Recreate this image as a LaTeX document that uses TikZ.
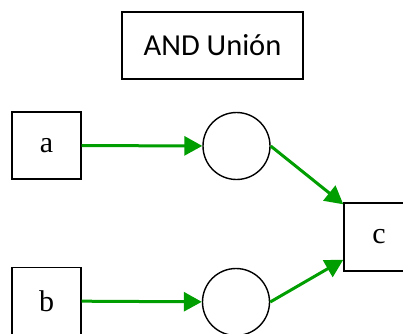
\documentclass[tikz,border=0pt]{standalone}
\usepackage{fontspec}
\setmainfont{Liberation Serif}
\newfontfamily\titlefont{Carlito}
\usepackage{xcolor}
\usetikzlibrary{arrows.meta, positioning}
\definecolor{arcgreen}{RGB}{0,158,0}

\begin{document}
\begin{tikzpicture}[x=1pt, y=-1pt]
\tikzstyle{place} = [circle, draw=black, line width=1.4pt, minimum size=67pt, inner sep=0pt]
\tikzstyle{trans} = [rectangle, draw=black, line width=1.4pt, minimum width=69pt, minimum height=67pt, font=\fontsize{30}{32}\selectfont]
\tikzstyle{label} = [rectangle, draw=black, line width=1.4pt, minimum width=181pt, minimum height=67pt, font=\titlefont\fontsize{30.5}{33}\selectfont]
\tikzstyle{arc} = [draw=arcgreen, line width=3pt, -{Triangle[length=18pt,width=19pt]}]

\useasboundingbox (0,0) rectangle (403,333);

% Nodes
\node (title) [label] at (212.5,45.5) {AND Unión};
\node (a) [trans] at (46.5,145.5) {a};
\node (b) [trans] at (46.5,301) {b};
\node (p1) [place] at (236.5,146) {};
\node (p2) [place] at (236,302) {};
\node (c) [trans, minimum width=70pt, minimum height=68pt] at (379,237) {c};

% Arcs
\draw [arc] (a) -- (p1);
\draw [arc] (b) -- (p2);
\draw [arc] (p1.east) -- ([yshift=-2pt]c.north west);
\draw [arc] (p2.east) -- ([yshift=12pt]c.south west);

\end{tikzpicture}
\end{document}
